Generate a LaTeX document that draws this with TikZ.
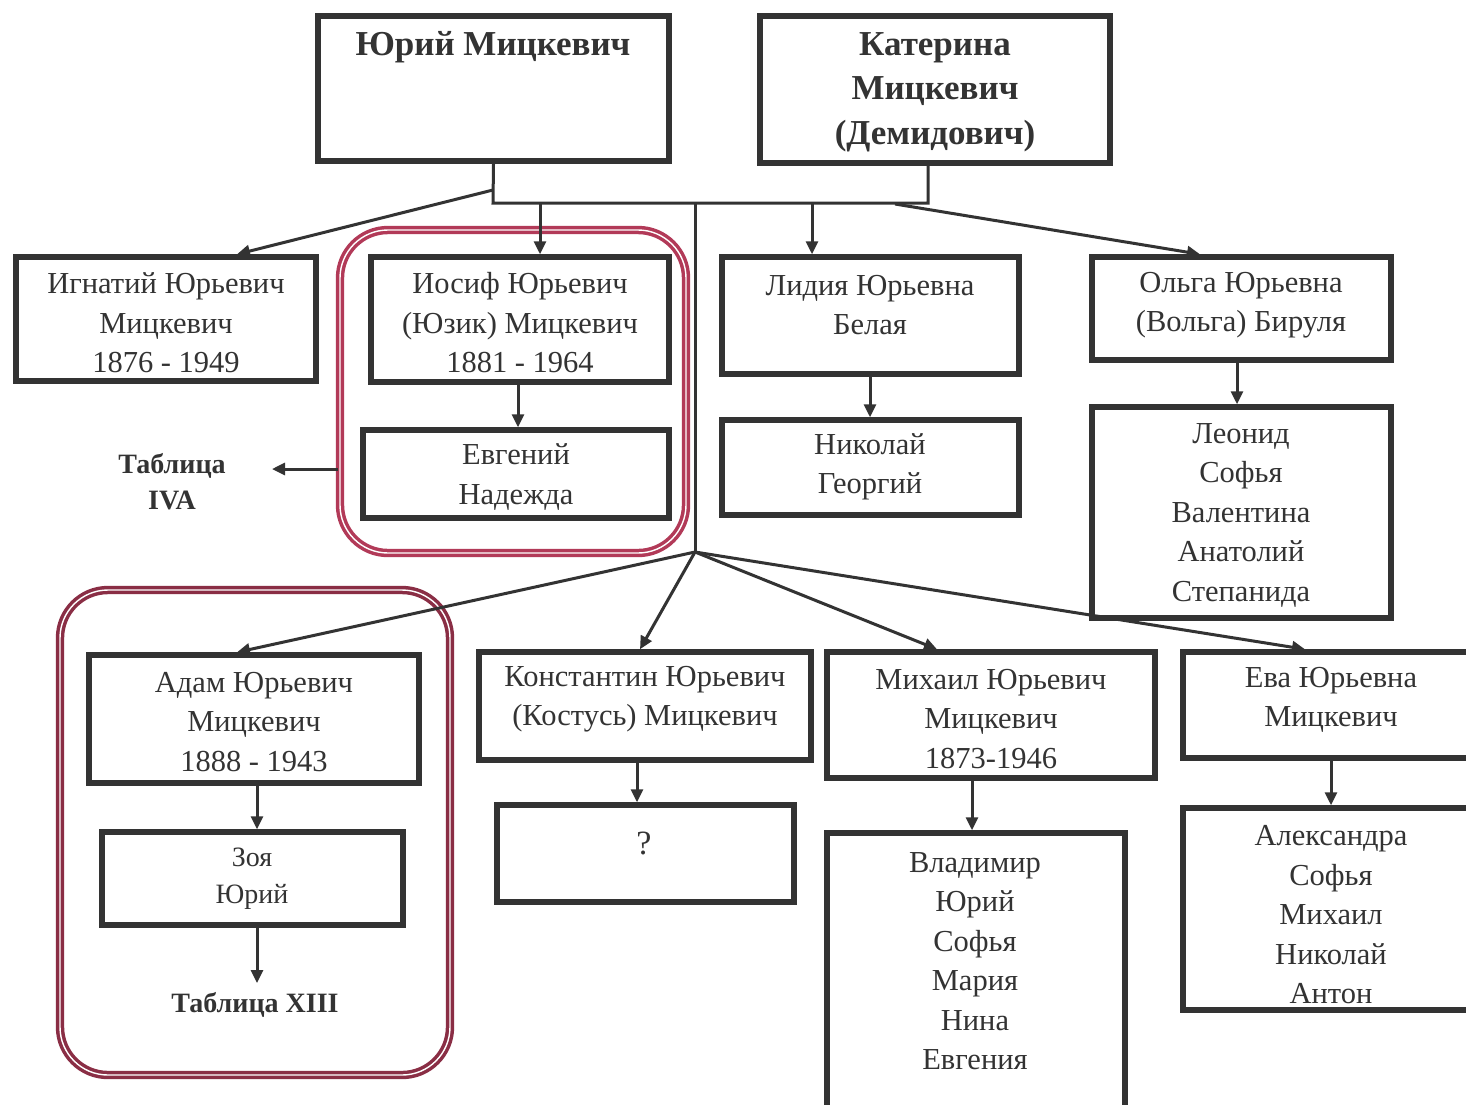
\documentclass[tikz,border=0pt]{standalone}
\usepackage{fontspec}
\setmainfont{Liberation Serif}
\usetikzlibrary{arrows.meta}
\definecolor{ink}{HTML}{333333}
\definecolor{redA}{HTML}{B23A58}
\definecolor{redB}{HTML}{8A2E45}
\begin{document}
\begin{tikzpicture}[x=1pt,y=-1pt,
  box/.style={draw=ink, line width=5.5pt, rectangle, inner sep=0pt},
  txt/.style={text=ink, align=center, inner sep=0pt, font=\fontsize{30.5}{39.5}\selectfont},
  btxt/.style={text=ink, align=center, inner sep=0pt, font=\bfseries\fontsize{35}{44.5}\selectfont},
  ttxt/.style={text=ink, align=center, inner sep=0pt, font=\bfseries\fontsize{28}{36}\selectfont},
  conn/.style={draw=ink, line width=3pt},
  arr/.style={conn, -{Triangle[length=13pt,width=12pt]}},
  redbox/.style={rectangle, line width=3.5pt, double=white, double distance=1.4pt, rounded corners=48pt, inner sep=0pt},
]
\useasboundingbox (0,0) rectangle (1466,1104);
\clip (0,0) rectangle (1466,1104);
\fill[white] (0,0) rectangle (1466,1104);

% red group frames
\node[redbox, draw=redA, minimum width=346, minimum height=323] (grp1) at (513,391.5) {};
\node[redbox, draw=redB, minimum width=390, minimum height=485] (grp2) at (255,832.5) {};

% boxes
\node[box, minimum width=351, minimum height=145] (yur) at (493.5,88.5) {};
\node[box, minimum width=350, minimum height=147] (kat) at (935,89.5) {};
\node[box, minimum width=300, minimum height=124] (ign) at (166,319) {};
\node[box, minimum width=298, minimum height=125] (ios) at (520,319.5) {};
\node[box, minimum width=306, minimum height=88] (evg) at (516,474) {};
\node[box, minimum width=297, minimum height=117] (lid) at (870.5,315.5) {};
\node[box, minimum width=297, minimum height=95] (nik) at (870.5,467.5) {};
\node[box, minimum width=299, minimum height=103] (olg) at (1241.5,308.5) {};
\node[box, minimum width=299, minimum height=211] (leo) at (1241.5,512.5) {};
\node[box, minimum width=330, minimum height=128] (adam) at (254,719) {};
\node[box, minimum width=301, minimum height=93] (zoya) at (252.5,878.5) {};
\node[box, minimum width=332, minimum height=108] (kon) at (645,706) {};
\node[box, minimum width=297, minimum height=97] (qq) at (645.5,853.5) {};
\node[box, minimum width=328, minimum height=126] (mih) at (991,715) {};
\node[box, minimum width=298, minimum height=290] (vla) at (976,978) {};
\node[box, minimum width=315, minimum height=106] (eva) at (1340.5,705) {};
\node[box, minimum width=315, minimum height=202] (ale) at (1340.5,909) {};

% texts
\node[btxt] (tyur) at (493,47) {Юрий Мицкевич};
\node[btxt] (tkat) at (935,92) {Катерина\\Мицкевич\\(Демидович)};
\node[txt] (tign) at (166,323) {Игнатий Юрьевич\\Мицкевич\\1876 - 1949};
\node[txt] (tios) at (520,323) {Иосиф Юрьевич\\(Юзик) Мицкевич\\1881 - 1964};
\node[txt] (tevg) at (516,477) {Евгений\\Надежда};
\node[ttxt] (tab4) at (172,482) {Таблица\\IVA};
\node[txt] (tlid) at (870,305) {Лидия Юрьевна\\Белая};
\node[txt] (tnik) at (870,467) {Николай\\Георгий};
\node[txt] (tolg) at (1241,305) {Ольга Юрьевна\\(Вольга) Бируля};
\node[txt] (tleo) at (1241,515) {Леонид\\Софья\\Валентина\\Анатолий\\Степанида};
\node[txt] (tadam) at (254,722) {Адам Юрьевич\\Мицкевич\\1888 - 1943};
\node[txt, font=\fontsize{28}{37}\selectfont] (tzoya) at (252,879) {Зоя\\Юрий};
\node[ttxt] (tab13) at (255,1005) {Таблица XIII};
\node[txt] (tkon) at (645,699) {Константин Юрьевич\\(Костусь) Мицкевич};
\node[txt, font=\fontsize{34}{40}\selectfont] (tqq) at (644,843) {?};
\node[txt] (tmih) at (991,719) {Михаил Юрьевич\\Мицкевич\\1873-1946};
\node[txt] (tvla) at (975,961) {Владимир\\Юрий\\Софья\\Мария\\Нина\\Евгения};
\node[txt] (teva) at (1331,700) {Ева Юрьевна\\Мицкевич};
\node[txt] (tale) at (1331,915) {Александра\\Софья\\Михаил\\Николай\\Антон};

% parents bar
\coordinate (barL) at (493,203);
\coordinate (barR) at (928,203);
\coordinate (jy) at (493,190);
\coordinate (jn) at (695,552);
\draw[conn] (yur.south) -- (barL) -- (barR) -- (928,0 |- kat.south);
\draw[arr] (jy) -- (ign.north -| 237,0);
\draw[arr] (540,203) -- (ios.north -| 540,0);
\draw[conn] (695,203) -- (jn);
\draw[arr] (812,203) -- (lid.north -| 812,0);
\draw[arr] (895,204) -- (olg.north -| 1200,0);

% second generation from junction
\draw[arr] (jn) -- (adam.north -| 237,0);
\draw[arr] (jn) -- (kon.north -| 640,0);
\draw[arr] (jn) -- (mih.north -| 937,0);
\draw[arr] (jn) -- (eva.north -| 1305,0);

% children
\draw[arr] (ios.south -| 518,0) -- (evg.north -| 518,0);
\draw[arr] (grp1.west |- 0,469) -- (272,469);
\draw[arr] (lid.south -| 870,0) -- (nik.north -| 870,0);
\draw[arr] (olg.south -| 1237,0) -- (leo.north -| 1237,0);
\draw[arr] (adam.south -| 257,0) -- (zoya.north -| 257,0);
\draw[arr] (zoya.south -| 257,0) -- (257,983);
\draw[arr] (kon.south -| 637,0) -- (qq.north -| 637,0);
\draw[arr] (mih.south -| 972,0) -- (vla.north -| 972,0);
\draw[arr] (eva.south -| 1331,0) -- (ale.north -| 1331,0);
\end{tikzpicture}
\end{document}
